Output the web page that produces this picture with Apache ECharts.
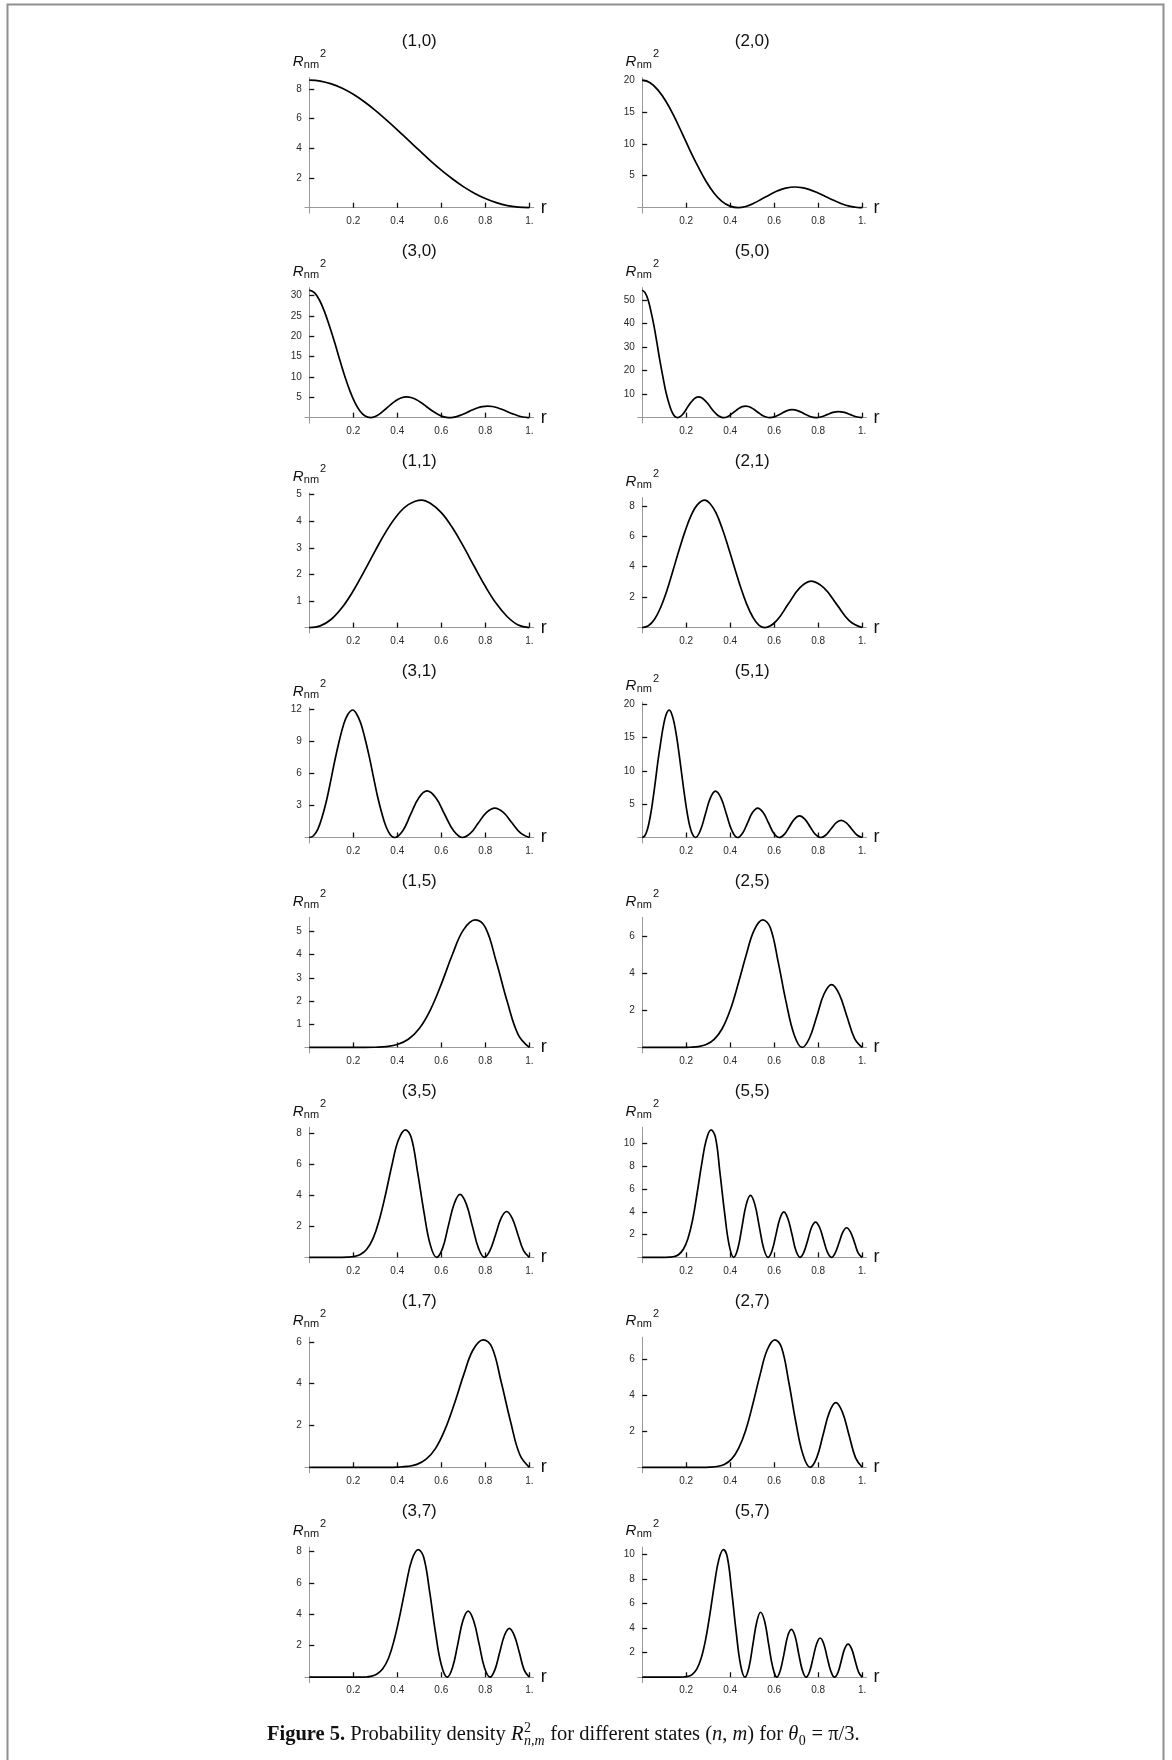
<!DOCTYPE html>
<html>
<head>
<meta charset="utf-8">
<script src="https://cdn.jsdelivr.net/npm/echarts@6/dist/echarts.min.js"></script>
<style>
html,body{margin:0;padding:0;background:#fff;}
#fig{width:1172px;height:1760px;}
</style>
</head>
<body>
<div id="fig"></div>
<script>
// ---- data: probability density R^2_{n,m}(r), one [r, value] list per state ----
const R10 = [[0,8.58],[0.05,8.52],[0.1,8.33],[0.15,8.035],[0.2,7.63],[0.25,7.13],[0.3,6.55],[0.35,5.91],[0.4,5.24],[0.45,4.54],[0.5,3.85],[0.55,3.17],[0.6,2.53],[0.65,1.95],[0.7,1.42],[0.75,0.98],[0.8,0.617],[0.85,0.338],[0.9,0.138],[0.95,0.035],[1,0]];
const R20 = [[0,19.94],[0.036,19.54],[0.072,18.39],[0.109,16.58],[0.145,14.28],[0.181,11.67],[0.217,8.98],[0.254,6.41],[0.29,4.14],[0.326,2.31],[0.362,1.0],[0.399,0.243],[0.436,0],[0.471,0.187],[0.507,0.683],[0.543,1.349],[0.58,2.044],[0.616,2.646],[0.652,3.061],[0.694,3.235],[0.725,3.144],[0.761,2.828],[0.797,2.336],[0.833,1.748],[0.87,1.152],[0.906,0.629],[0.942,0.243],[0.978,0.034],[1,0]];
const R30 = [[0,31.33],[0.023,30.71],[0.046,28.9],[0.069,26.06],[0.092,22.44],[0.116,18.34],[0.139,14.11],[0.162,10.07],[0.185,6.5],[0.208,3.62],[0.231,1.57],[0.254,0.382],[0.278,0],[0.3,0.294],[0.324,1.072],[0.347,2.119],[0.37,3.212],[0.393,4.158],[0.416,4.809],[0.443,5.083],[0.462,4.94],[0.485,4.444],[0.509,3.671],[0.532,2.747],[0.555,1.811],[0.578,0.988],[0.601,0.381],[0.624,0.053],[0.638,0],[0.647,0.023],[0.67,0.263],[0.693,0.711],[0.717,1.275],[0.74,1.854],[0.763,2.352],[0.786,2.692],[0.811,2.822],[0.832,2.728],[0.855,2.432],[0.878,1.983],[0.901,1.454],[0.925,0.924],[0.948,0.468],[0.971,0.15],[0.994,0.007],[1,0]];
const R50 = [[0,54.16],[0.013,53.08],[0.027,49.96],[0.04,45.05],[0.054,38.79],[0.067,31.71],[0.08,24.39],[0.094,17.41],[0.107,11.23],[0.121,6.26],[0.134,2.71],[0.147,0.66],[0.161,0],[0.174,0.507],[0.188,1.854],[0.201,3.664],[0.214,5.553],[0.228,7.188],[0.241,8.314],[0.257,8.787],[0.268,8.541],[0.281,7.681],[0.295,6.346],[0.308,4.748],[0.321,3.13],[0.335,1.708],[0.348,0.659],[0.362,0.092],[0.37,0],[0.389,0.455],[0.402,1.228],[0.415,2.203],[0.429,3.206],[0.442,4.066],[0.455,4.653],[0.47,4.878],[0.482,4.716],[0.496,4.204],[0.509,3.428],[0.522,2.513],[0.536,1.597],[0.549,0.809],[0.563,0.259],[0.58,0],[0.605,0.494],[0.631,1.689],[0.656,2.883],[0.681,3.377],[0.709,2.883],[0.736,1.689],[0.763,0.494],[0.79,0],[0.815,0.378],[0.841,1.292],[0.867,2.206],[0.892,2.583],[0.919,2.206],[0.946,1.292],[0.973,0.378],[1,0]];
const R11 = [[0,0],[0.05,0.065],[0.1,0.313],[0.15,0.762],[0.2,1.384],[0.25,2.123],[0.3,2.899],[0.35,3.63],[0.4,4.229],[0.45,4.629],[0.51,4.8],[0.55,4.679],[0.6,4.325],[0.65,3.765],[0.7,3.063],[0.75,2.298],[0.8,1.553],[0.85,0.902],[0.9,0.407],[0.95,0.095],[1,0]];
const R21 = [[0,0],[0.028,0.114],[0.056,0.547],[0.084,1.33],[0.112,2.416],[0.139,3.706],[0.167,5.062],[0.195,6.337],[0.223,7.383],[0.251,8.082],[0.284,8.38],[0.307,8.169],[0.335,7.551],[0.362,6.572],[0.39,5.347],[0.418,4.012],[0.446,2.712],[0.474,1.575],[0.502,0.71],[0.53,0.165],[0.558,0],[0.61,0.445],[0.663,1.525],[0.716,2.605],[0.768,3.05],[0.826,2.605],[0.884,1.525],[0.942,0.445],[1,0]];
const R31 = [[0,0],[0.019,0.163],[0.039,0.78],[0.058,1.897],[0.078,3.445],[0.097,5.284],[0.116,7.218],[0.136,9.037],[0.155,10.528],[0.175,11.525],[0.198,11.95],[0.213,11.649],[0.233,10.768],[0.252,9.372],[0.272,7.625],[0.291,5.722],[0.31,3.867],[0.33,2.247],[0.349,1.012],[0.369,0.235],[0.388,0],[0.425,0.637],[0.461,2.18],[0.498,3.723],[0.535,4.36],[0.575,3.723],[0.615,2.18],[0.656,0.637],[0.696,0],[0.733,0.403],[0.769,1.38],[0.806,2.357],[0.843,2.76],[0.882,2.357],[0.921,1.38],[0.961,0.403],[1,0]];
const R51 = [[0,0],[0.012,0.26],[0.024,1.249],[0.036,3.036],[0.048,5.515],[0.06,8.459],[0.072,11.555],[0.085,14.466],[0.097,16.854],[0.109,18.449],[0.123,19.13],[0.133,18.648],[0.145,17.238],[0.157,15.004],[0.169,12.207],[0.181,9.159],[0.193,6.19],[0.205,3.596],[0.217,1.62],[0.23,0.377],[0.242,0],[0.264,1.018],[0.287,3.485],[0.31,5.952],[0.333,6.97],[0.358,5.952],[0.383,3.485],[0.408,1.018],[0.433,0],[0.456,0.645],[0.479,2.21],[0.502,3.774],[0.525,4.42],[0.549,3.774],[0.574,2.21],[0.598,0.645],[0.623,0],[0.646,0.473],[0.669,1.62],[0.692,2.767],[0.715,3.24],[0.739,2.767],[0.763,1.62],[0.787,0.473],[0.812,0],[0.835,0.374],[0.858,1.28],[0.881,2.186],[0.904,2.56],[0.928,2.186],[0.952,1.28],[0.976,0.374],[1,0]];
const R15 = [[0,0],[0.25,0.001],[0.3,0.008],[0.35,0.035],[0.4,0.124],[0.45,0.35],[0.5,0.817],[0.55,1.613],[0.6,2.732],[0.65,3.996],[0.7,5.06],[0.754,5.5],[0.8,5.177],[0.85,3.691],[0.9,1.965],[0.95,0.539],[1,0]];
const R25 = [[0,0],[0.182,0],[0.218,0.01],[0.255,0.044],[0.291,0.155],[0.327,0.439],[0.364,1.025],[0.4,2.023],[0.436,3.428],[0.473,5.013],[0.509,6.348],[0.548,6.9],[0.582,6.494],[0.618,4.63],[0.654,2.465],[0.691,0.676],[0.727,0],[0.76,0.496],[0.794,1.7],[0.827,2.904],[0.861,3.4],[0.895,2.904],[0.93,1.7],[0.965,0.496],[1,0]];
const R35 = [[0,0],[0.145,0.002],[0.174,0.011],[0.203,0.052],[0.232,0.185],[0.261,0.522],[0.29,1.218],[0.318,2.404],[0.347,4.074],[0.376,5.958],[0.405,7.544],[0.437,8.2],[0.463,7.718],[0.492,5.502],[0.521,2.93],[0.55,0.803],[0.579,0],[0.606,0.591],[0.632,2.025],[0.659,3.459],[0.685,4.05],[0.713,3.459],[0.741,2.025],[0.769,0.591],[0.796,0],[0.821,0.431],[0.847,1.475],[0.872,2.519],[0.897,2.95],[0.922,2.519],[0.948,1.475],[0.974,0.431],[1,0]];
const R55 = [[0,0],[0.104,0.002],[0.125,0.015],[0.146,0.071],[0.166,0.252],[0.187,0.712],[0.208,1.663],[0.229,3.284],[0.249,5.564],[0.27,8.138],[0.291,10.304],[0.313,11.2],[0.333,10.541],[0.353,7.515],[0.374,4.002],[0.395,1.097],[0.416,0],[0.435,0.796],[0.454,2.725],[0.473,4.652],[0.492,5.45],[0.512,4.652],[0.532,2.725],[0.552,0.796],[0.572,0],[0.59,0.584],[0.608,2.0],[0.626,3.414],[0.644,4.0],[0.662,3.414],[0.681,2.0],[0.699,0.584],[0.718,0],[0.735,0.453],[0.753,1.55],[0.77,2.646],[0.788,3.1],[0.806,2.646],[0.824,1.55],[0.842,0.453],[0.86,0],[0.877,0.38],[0.895,1.3],[0.912,2.219],[0.929,2.6],[0.947,2.219],[0.965,1.3],[0.982,0.38],[1,0]];
const R17 = [[0,0],[0.35,0],[0.403,0.009],[0.446,0.039],[0.489,0.137],[0.531,0.388],[0.574,0.906],[0.616,1.789],[0.659,3.03],[0.702,4.432],[0.744,5.612],[0.79,6.1],[0.83,5.741],[0.872,4.093],[0.915,2.179],[0.957,0.598],[1,0]];
const R27 = [[0,0],[0.267,0],[0.308,0.01],[0.34,0.045],[0.373,0.16],[0.406,0.452],[0.438,1.054],[0.471,2.082],[0.503,3.527],[0.536,5.159],[0.568,6.532],[0.603,7.1],[0.633,6.682],[0.666,4.764],[0.698,2.537],[0.731,0.696],[0.763,0],[0.793,0.526],[0.822,1.8],[0.851,3.074],[0.88,3.6],[0.91,3.074],[0.94,1.8],[0.97,0.526],[1,0]];
const R37 = [[0,0],[0.219,0],[0.253,0.011],[0.279,0.052],[0.306,0.182],[0.333,0.515],[0.36,1.203],[0.386,2.375],[0.413,4.024],[0.44,5.885],[0.466,7.452],[0.495,8.1],[0.52,7.624],[0.547,5.435],[0.573,2.894],[0.6,0.793],[0.627,0],[0.651,0.613],[0.675,2.1],[0.698,3.585],[0.722,4.2],[0.747,3.585],[0.772,2.1],[0.796,0.613],[0.821,0],[0.843,0.453],[0.865,1.55],[0.887,2.646],[0.909,3.1],[0.932,2.646],[0.955,1.55],[0.977,0.453],[1,0]];
const R57 = [[0,0],[0.164,0],[0.188,0.015],[0.208,0.067],[0.228,0.234],[0.248,0.661],[0.268,1.544],[0.288,3.049],[0.308,5.167],[0.328,7.557],[0.348,9.568],[0.369,10.4],[0.387,9.788],[0.407,6.979],[0.427,3.716],[0.447,1.019],[0.467,0],[0.485,0.774],[0.503,2.65],[0.521,4.526],[0.538,5.3],[0.557,4.526],[0.575,2.65],[0.594,0.774],[0.612,0],[0.628,0.569],[0.645,1.95],[0.661,3.331],[0.678,3.9],[0.695,3.331],[0.711,1.95],[0.728,0.569],[0.745,0],[0.761,0.467],[0.777,1.6],[0.793,2.733],[0.809,3.2],[0.825,2.733],[0.841,1.6],[0.858,0.467],[0.874,0],[0.89,0.394],[0.905,1.35],[0.92,2.306],[0.936,2.7],[0.952,2.306],[0.968,1.35],[0.984,0.394],[1,0]];

// state labels, in reading order (two per row)
const stateLabels = ['(1,0)','(2,0)','(3,0)','(5,0)','(1,1)','(2,1)','(3,1)','(5,1)','(1,5)','(2,5)','(3,5)','(5,5)','(1,7)','(2,7)','(3,7)','(5,7)'];
const stateData = [R10,R20,R30,R50,R11,R21,R31,R51,R15,R25,R35,R55,R17,R27,R37,R57];

// tick values
const rTicks = [0.2,0.4,0.6,0.8,1];
const yTicks = [
  [2,4,6,8],[5,10,15,20],[5,10,15,20,25,30],[10,20,30,40,50],
  [1,2,3,4,5],[2,4,6,8],[3,6,9,12],[5,10,15,20],
  [1,2,3,4,5],[2,4,6],[2,4,6,8],[2,4,6,8,10],
  [2,4,6],[2,4,6],[2,4,6,8],[2,4,6,8,10]
];

// ---- layout ----
const SANS = '"Liberation Sans", Arial, Helvetica, sans-serif';
const SERIF = '"Liberation Serif", "Times New Roman", serif';
const COL_X0 = [309.3, 642.2];   // pixel of r = 0 in each column
const PX_PER_R = 220;            // pixels per unit r
const ROW_Y0 = 207.7;            // pixel of value 0 in the first row
const ROW_STEP = 209.93;
const PEAK_PX = 127.5;           // height of each curve's maximum above its axis

const measureCtx = document.createElement('canvas').getContext('2d');
function textWidth(t, font) { measureCtx.font = font; return measureCtx.measureText(t).width; }
// vertical centre of the em box for a given baseline
function midOf(baseline, size) { return baseline - 0.33 * size; }
function txt(x, y, text, opt) {
  return {
    type: 'text', x: x, y: y, silent: true,
    style: Object.assign({
      text: text, fill: '#111', fontFamily: SANS, fontSize: 12,
      align: 'left', textAlign: 'left', verticalAlign: 'middle', textVerticalAlign: 'middle'
    }, opt || {})
  };
}

const grids = [], xAxes = [], yAxes = [], series = [], graphics = [];

stateData.forEach(function (data, i) {
  const row = Math.floor(i / 2), col = i % 2;
  const x0 = COL_X0[col];
  const axisY = ROW_Y0 + row * ROW_STEP;
  const peak = Math.max.apply(null, data.map(function (p) { return p[1]; }));
  const scale = PEAK_PX / peak;
  const ticks = yTicks[i];
  const yMax = Math.max(peak * 1.02, ticks[ticks.length - 1] * 1.015);
  const yMin = -5.5 / scale;
  const top = axisY - yMax * scale;

  grids.push({
    left: x0 - 0.02 * PX_PER_R, width: 1.04 * PX_PER_R,
    top: top, height: (yMax - yMin) * scale, containLabel: false
  });
  xAxes.push({
    gridIndex: i, type: 'value', min: -0.02, max: 1.02,
    name: 'r', nameLocation: 'end', nameGap: 7,
    nameTextStyle: { fontFamily: SANS, fontSize: 18, color: '#111', verticalAlign: 'middle' },
    axisLine: { show: true, onZero: true, lineStyle: { color: '#9a9a9a', width: 1 } },
    axisTick: { show: true, inside: true, length: 5, customValues: rTicks, lineStyle: { color: '#111', width: 1.3 } },
    axisLabel: {
      show: true, customValues: rTicks, margin: 3, fontFamily: SANS, fontSize: 10, color: '#2a2a2a',
      formatter: function (v) { return v === 1 ? '1.' : v.toFixed(1); }
    },
    splitLine: { show: false }
  });
  yAxes.push({
    gridIndex: i, type: 'value', min: yMin, max: yMax,
    axisLine: { show: true, onZero: true, lineStyle: { color: '#9a9a9a', width: 1 } },
    axisTick: { show: true, inside: true, length: 5, customValues: ticks, lineStyle: { color: '#111', width: 1.3 } },
    axisLabel: { show: true, customValues: ticks, margin: 3, fontFamily: SANS, fontSize: 10, color: '#2a2a2a' },
    splitLine: { show: false }
  });
  series.push({
    type: 'line', xAxisIndex: i, yAxisIndex: i, data: data,
    smooth: 0.4, showSymbol: false, symbol: 'none', silent: true, animation: false,
    lineStyle: { color: '#000', width: 1.7 }
  });

  // panel title
  graphics.push(txt(x0 + 110, axisY - 166, stateLabels[i], {
    fontSize: 17, align: 'center', textAlign: 'center', fill: '#111'
  }));
  // y label  R_nm^2
  const base = top - 11;
  const rx = x0 - 16.6;
  const wR = textWidth('R', 'italic 15px ' + SANS);
  const wNm = textWidth('nm', '11px ' + SANS);
  graphics.push(txt(rx, midOf(base, 15), 'R', { fontSize: 15, fontStyle: 'italic' }));
  graphics.push(txt(rx + wR + 0.3, midOf(base + 1.8, 11), 'nm', { fontSize: 11 }));
  graphics.push(txt(rx + wR + wNm + 1.2, midOf(base - 9, 11), '2', { fontSize: 11 }));
});

// ---- caption ----
(function () {
  const fs = 20.5, small = 14;
  const reg = fs + 'px ' + SERIF, ital = 'italic ' + fs + 'px ' + SERIF, bold = 'bold ' + fs + 'px ' + SERIF;
  const runs = [
    { t: 'Figure 5.', font: bold, w: 'bold' },
    { t: ' Probability density ', font: reg },
    { t: 'R', font: ital, s: 'italic' },
    { stack: [
      { t: '2', size: small, dy: -8.5, s: 'normal' },
      { t: 'n,m', size: small, dy: 5, s: 'italic' }
    ] },
    { t: ' for different states (', font: reg },
    { t: 'n', font: ital, s: 'italic' },
    { t: ', ', font: reg },
    { t: 'm', font: ital, s: 'italic' },
    { t: ') for ', font: reg },
    { t: '\u03b8', font: ital, s: 'italic' },
    { stack: [{ t: '0', size: small, dy: 5, s: 'normal' }] },
    { t: ' = \u03c0/3.', font: reg }
  ];
  const baseline = 1741;
  let x = 267;
  runs.forEach(function (r) {
    if (r.stack) {
      let wmax = 0;
      r.stack.forEach(function (s) {
        const f = (s.s === 'italic' ? 'italic ' : '') + s.size + 'px ' + SERIF;
        wmax = Math.max(wmax, textWidth(s.t, f));
        graphics.push(txt(x + 0.5, midOf(baseline + s.dy, s.size), s.t, {
          fontFamily: SERIF, fontSize: s.size, fontStyle: s.s
        }));
      });
      x += wmax + 1;
    } else {
      graphics.push(txt(x, midOf(baseline, fs), r.t, {
        fontFamily: SERIF, fontSize: fs, fontStyle: r.s || 'normal', fontWeight: r.w || 'normal'
      }));
      x += textWidth(r.t, r.font);
    }
  });
})();

// ---- frame ----
graphics.push({
  type: 'rect', silent: true, z: -1,
  shape: { x: 7.5, y: 4.5, width: 1156, height: 1800 },
  style: { fill: 'none', stroke: '#8f8f8f', lineWidth: 2 }
});

const chart = echarts.init(document.getElementById('fig'), null, { renderer: 'canvas', width: 1172, height: 1760 });
chart.setOption({
  backgroundColor: '#fff',
  animation: false,
  grid: grids,
  xAxis: xAxes,
  yAxis: yAxes,
  series: series,
  graphic: { elements: graphics }
});
</script>
</body>
</html>
